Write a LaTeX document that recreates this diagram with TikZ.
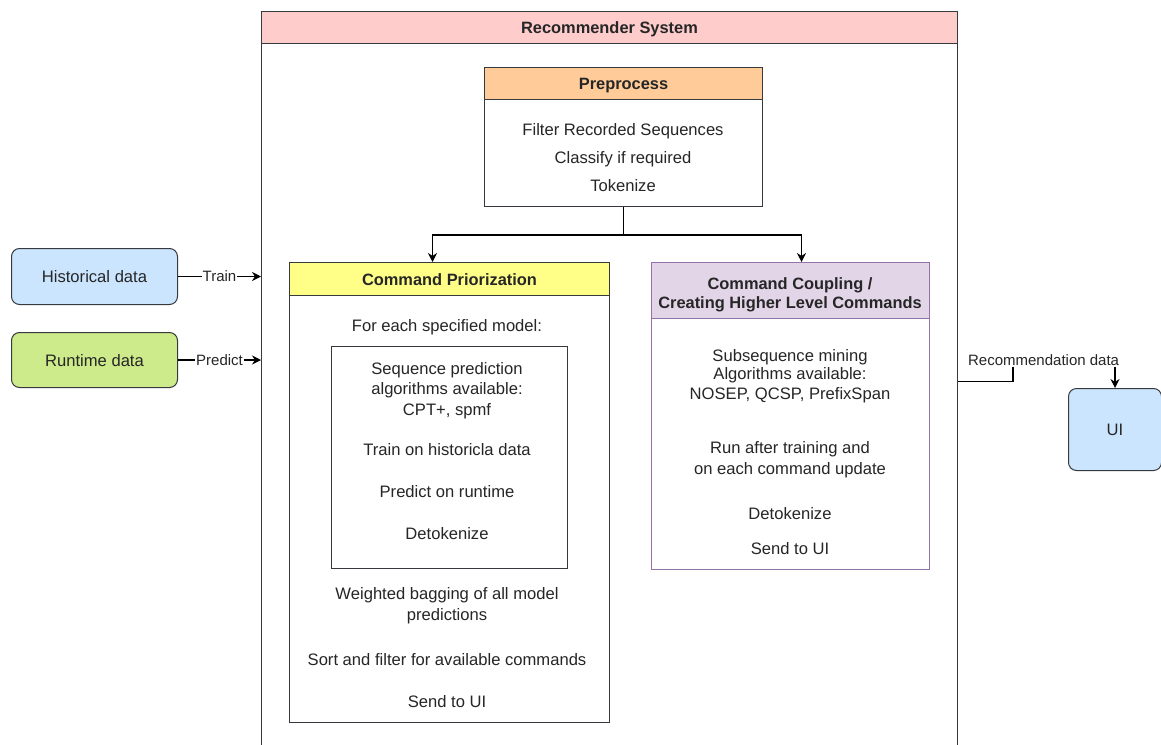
\documentclass[tikz,border=0pt]{standalone}
\usepackage{fontspec}
\setmainfont{Liberation Sans}
\usetikzlibrary{arrows.meta}

\definecolor{linegray}{HTML}{36393D}
\definecolor{pinkhead}{HTML}{FFCCCC}
\definecolor{orangehead}{HTML}{FFCC99}
\definecolor{yellowhead}{HTML}{FFFF88}
\definecolor{lilachead}{HTML}{E1D5E7}
\definecolor{lilacline}{HTML}{9673A6}
\definecolor{bluebox}{HTML}{CCE5FF}
\definecolor{greenbox}{HTML}{CDEB8B}

\begin{document}
\begin{tikzpicture}[x=1pt,y=-1pt,
    box/.style={draw=linegray,line width=1pt,inner sep=0pt,anchor=north west},
    txt/.style={inner sep=0pt,text height=12pt,text depth=0pt,text=black!85,font=\fontsize{16.6}{19}\selectfont},
    ttl/.style={txt,font=\fontsize{16.4}{19}\selectfont\bfseries},
    lbl/.style={fill=white,inner sep=1pt,text=black!85,font=\fontsize{15}{18}\selectfont},
    arr/.style={-{Stealth[length=9pt,width=9pt]},line width=1.1pt,draw=black}]
    \clip (0,0) rectangle (1161,744);
    \fill[white] (0,0) rectangle (1161,744);

    % recommender system frame
    \node[box,minimum width=696pt,minimum height=740pt] (recsys) at (261,11) {};
    \node[box,fill=pinkhead,minimum width=696pt,minimum height=32pt,ttl] (recsyshead) at (261,11) {Recommender System};

    % preprocess
    \node[box,minimum width=278pt,minimum height=139pt] (pre) at (484,67) {};
    \node[box,fill=orangehead,minimum width=278pt,minimum height=32pt,ttl] (prehead) at (484,67) {Preprocess};
    \foreach \y/\t [count=\i] in {129/Filter Recorded Sequences,157/Classify if required,185/Tokenize}{
        \node[txt] (pre\i) at (623,\y) {\t};
    }

    % command priorization
    \node[box,minimum width=320pt,minimum height=460pt] (prio) at (289,262) {};
    \node[box,fill=yellowhead,minimum width=320pt,minimum height=33pt,ttl] (priohead) at (289,262) {Command Priorization};
    \node[box,minimum width=236pt,minimum height=222pt] (model) at (331,346) {};
    \foreach \y/\t [count=\i] in {325/For each specified model:,368/Sequence prediction,388/algorithms available:,
        409/{CPT+, spmf},449/Train on historicla data,491/Predict on runtime,533/Detokenize,
        593/Weighted bagging of all model,614/predictions,659/Sort and filter for available commands,701/Send to UI}{
        \node[txt] (prio\i) at (447,\y) {\t};
    }

    % command coupling
    \node[box,draw=lilacline,minimum width=278pt,minimum height=307pt] (coup) at (651,262) {};
    \node[box,draw=lilacline,fill=lilachead,minimum width=278pt,minimum height=56pt] (couphead) at (651,262) {};
    \node[ttl] (couptitleA) at (790,283) {Command Coupling /};
    \node[ttl] (couptitleB) at (790,302) {Creating Higher Level Commands};
    \foreach \y/\t [count=\i] in {355/Subsequence mining,373/Algorithms available:,393/{NOSEP, QCSP, PrefixSpan},
        447/Run after training and,468/on each command update,513/Detokenize,548/Send to UI}{
        \node[txt] (coup\i) at (790,\y) {\t};
    }

    % data sources and ui
    \node[box,rounded corners=8pt,fill=bluebox,minimum width=166pt,minimum height=56pt,txt] (hist) at (11,248) {Historical data};
    \node[box,rounded corners=8pt,fill=greenbox,minimum width=166pt,minimum height=55pt,txt] (run) at (11,332) {Runtime data};
    \node[box,rounded corners=8pt,fill=bluebox,minimum width=93pt,minimum height=82pt,txt] (ui) at (1068,388) {UI};

    % connectors
    \draw[arr] (pre.south) -- ++(0,28) -| ([xshift=-17pt]prio.north);
    \draw[arr] (pre.south) -- ++(0,28) -| ([xshift=11pt]coup.north);
    \draw[arr] (hist.east) -- (hist.east -| recsys.west) node[lbl,midway] {Train};
    \draw[arr] (run.east) -- (run.east -| recsys.west) node[lbl,midway] {Predict};
    \draw[arr] (recsys.east) -- ++(55,0) -- ++(0,-21) -| (ui.north) node[lbl,pos=0.15] {Recommendation data};
\end{tikzpicture}
\end{document}
